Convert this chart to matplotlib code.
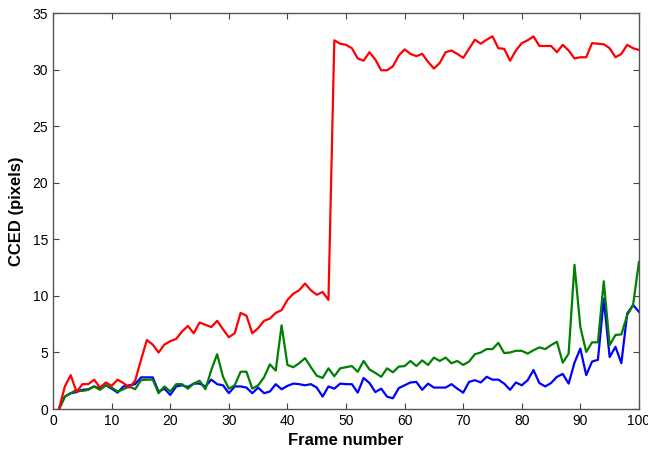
import numpy as np
import matplotlib.pyplot as plt

plt.rcParams['font.family'] = ['Liberation Sans', 'DejaVu Sans']

frames = np.arange(1, 101)

red = [0.0, 2.0, 3.0, 1.5, 2.2, 2.2, 2.6, 1.9, 2.35, 2.05,
       2.6, 2.3, 1.9, 2.5, 4.35, 6.1, 5.7, 5.0, 5.7, 6.0,
       6.2, 6.85, 7.35, 6.7, 7.65, 7.45, 7.25, 7.8, 7.05, 6.35,
       6.7, 8.5, 8.25, 6.7, 7.15, 7.8, 8.0, 8.5, 8.75, 9.65,
       10.2, 10.5, 11.1, 10.5, 10.1, 10.35, 9.65, 32.6, 32.3, 32.2,
       31.9, 31.0, 30.8, 31.55, 30.9, 29.95, 29.95, 30.3, 31.25, 31.8,
       31.4, 31.2, 31.4, 30.7, 30.1, 30.6, 31.55, 31.7, 31.4, 31.05,
       31.85, 32.65, 32.3, 32.65, 32.95, 31.9, 31.85, 30.8, 31.7, 32.35,
       32.6, 32.95, 32.1, 32.1, 32.1, 31.55, 32.2, 31.7, 31.0, 31.1,
       31.1, 32.35, 32.3, 32.25, 31.9, 31.1, 31.4, 32.2, 31.9, 31.75]

green = [0.0, 1.1, 1.4, 1.7, 1.6, 1.7, 2.0, 1.7, 2.1, 1.9,
         1.55, 1.75, 2.0, 1.75, 2.55, 2.6, 2.6, 1.4, 2.0, 1.55,
         2.2, 2.2, 1.8, 2.25, 2.5, 1.75, 3.45, 4.85, 2.85, 1.8,
         2.1, 3.3, 3.3, 1.8, 2.1, 2.8, 3.95, 3.4, 7.4, 3.9,
         3.7, 4.05, 4.5, 3.7, 2.95, 2.75, 3.6, 2.9, 3.6, 3.7,
         3.8, 3.3, 4.25, 3.5, 3.2, 2.85, 3.6, 3.25, 3.75, 3.8,
         4.25, 3.8, 4.3, 3.9, 4.55, 4.25, 4.55, 4.05, 4.25, 3.9,
         4.2, 4.85, 5.0, 5.3, 5.3, 5.85, 4.95, 5.0, 5.15, 5.15,
         4.9, 5.2, 5.45, 5.3, 5.65, 5.95, 4.1, 4.9, 12.75, 7.25,
         5.05, 5.9, 5.9, 11.3, 5.65, 6.55, 6.6, 8.3, 9.2, 13.0]

blue = [0.0, 1.1, 1.4, 1.5, 1.7, 1.75, 2.0, 1.8, 2.1, 1.8,
        1.45, 2.0, 2.1, 2.2, 2.8, 2.8, 2.8, 1.55, 1.8, 1.25,
        2.0, 2.1, 1.95, 2.25, 2.25, 2.0, 2.6, 2.2, 2.1, 1.4,
        2.0, 2.0, 1.9, 1.4, 1.9, 1.4, 1.55, 2.2, 1.75, 2.05,
        2.25, 2.2, 2.1, 2.2, 1.9, 1.1, 2.0, 1.8, 2.25, 2.2,
        2.2, 1.45, 2.75, 2.3, 1.5, 1.8, 1.1, 0.95, 1.85, 2.1,
        2.35, 2.4, 1.7, 2.25, 1.9, 1.9, 1.9, 2.2, 1.8, 1.45,
        2.4, 2.55, 2.35, 2.85, 2.6, 2.6, 2.25, 1.7, 2.35, 2.1,
        2.55, 3.45, 2.3, 2.0, 2.3, 2.85, 3.1, 2.25, 4.1, 5.35,
        3.0, 4.2, 4.35, 9.75, 4.6, 5.5, 4.05, 8.45, 9.2, 8.6]

fig = plt.figure(figsize=(6.48, 4.54), dpi=100)
ax = fig.add_axes([0.082, 0.099, 0.904, 0.872])

ax.plot(frames, blue, color=(0, 0, 1), lw=1.6)
ax.plot(frames, green, color=(0, 0.5, 0), lw=1.6)
ax.plot(frames, red, color=(1, 0, 0), lw=1.6)

ax.set_xlim(0, 100)
ax.set_ylim(0, 35)
ax.set_xticks(np.arange(0, 101, 10))
ax.set_yticks(np.arange(0, 36, 5))
ax.tick_params(direction='in', top=True, right=True, labelsize=10, length=4,
               color='#444444', labelcolor='black')
for s in ax.spines.values():
    s.set_color('#555555')
    s.set_linewidth(1.0)

ax.set_xlabel('Frame number', fontsize=12, fontweight='bold', labelpad=4)
ax.set_ylabel('CCED (pixels)', fontsize=12, fontweight='bold', labelpad=6)

fig.savefig('out.png', dpi=100)
